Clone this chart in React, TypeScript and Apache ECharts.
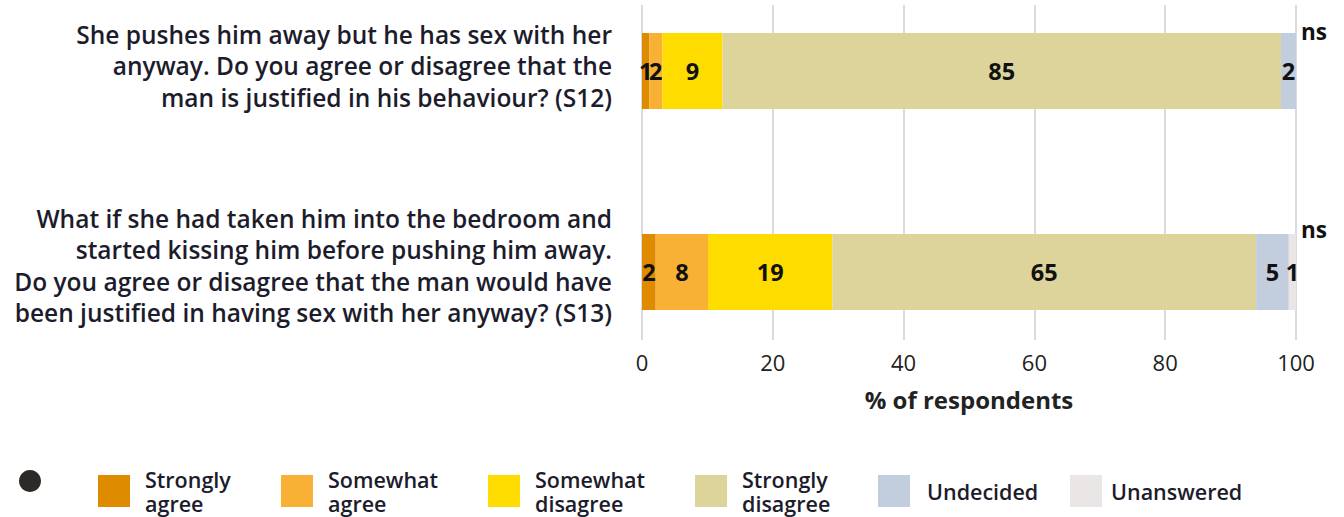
import React, { useEffect, useRef } from "react";
import * as echarts from "echarts";

const categories = [
  "She pushes him away but he has sex with her\nanyway. Do you agree or disagree that the\nman is justified in his behaviour? (S12)",
  "What if she had taken him into the bedroom and\nstarted kissing him before pushing him away.\nDo you agree or disagree that the man would have\nbeen justified in having sex with her anyway? (S13)",
];

const seriesNames = [
  "Strongly agree",
  "Somewhat agree",
  "Somewhat disagree",
  "Strongly disagree",
  "Undecided",
  "Unanswered",
];

const stronglyAgree = [1.1, 2.1];
const somewhatAgree = [2.0, 8.0];
const somewhatDisagree = [9.2, 19.0];
const stronglyDisagree = [85.4, 64.8];
const undecided = [2.3, 5.0];
const unanswered = [0, 1.1];

const seriesValues = [stronglyAgree, somewhatAgree, somewhatDisagree, stronglyDisagree, undecided, unanswered];
const seriesColors = ["#DE8B00", "#F8B134", "#FFDC00", "#DDD49C", "#C2CDDE", "#EAE6E6"];

const xTicks = { min: 0, max: 100, interval: 20 };
const significance = ["ns", "ns"];
const xAxisTitle = "% of respondents";

const legendLefts = [93, 276, 483, 690, 873, 1065];
const legendTextGaps = [10, 10, 10, 10, 12, 4];
const FONT = "'Open Sans', 'Noto Sans', sans-serif";
const TEXT = "#1c1c2c";

export default function App() {
  const ref = useRef<HTMLDivElement>(null);
  useEffect(() => {
    if (!ref.current) return;
    const chart = echarts.init(ref.current, undefined, { renderer: "svg" });
    const option: any = {
      animation: false,
      textStyle: { fontFamily: FONT },
      grid: [
        { left: 642, right: 48, top: 71, height: 201 },
        { left: 642, right: 48, top: 5, height: 335 },
        { left: 642, right: 48, top: 65.5, height: 200 },
      ],
      xAxis: [
        {
          gridIndex: 0,
          type: "value",
          min: xTicks.min,
          max: xTicks.max,
          interval: xTicks.interval,
          show: false,
        },
        {
          gridIndex: 1,
          type: "value",
          min: xTicks.min,
          max: xTicks.max,
          interval: xTicks.interval,
          axisLine: { show: false },
          axisTick: { show: false },
          splitLine: { show: true, lineStyle: { color: "#cfcfcf", width: 1.5 } },
          axisLabel: { margin: 11, fontSize: 22, color: "#222", fontFamily: FONT },
          name: xAxisTitle,
          nameLocation: "middle",
          nameGap: 47,
          nameTextStyle: { fontSize: 24, fontWeight: "bold", color: "#222", fontFamily: FONT },
        },
        {
          gridIndex: 2,
          type: "value",
          min: xTicks.min,
          max: xTicks.max,
          show: false,
        },
      ],
      yAxis: [
        {
          gridIndex: 0,
          type: "category",
          data: categories,
          inverse: true,
          boundaryGap: false,
          show: false,
        },
        { gridIndex: 1, type: "value", min: 0, max: 1, show: false },
        {
          gridIndex: 2,
          type: "category",
          data: categories,
          inverse: true,
          boundaryGap: false,
          axisLine: { show: false },
          axisTick: { show: false },
          splitLine: { show: false },
          axisLabel: {
            margin: 30,
            fontSize: 24.5,
            fontWeight: 600,
            lineHeight: 31.5,
            color: TEXT,
            align: "right",
            fontFamily: FONT,
          },
        },
      ],
      legend: seriesNames.map((n, i) => ({
        data: [n],
        left: legendLefts[i],
        top: n.indexOf(" ") >= 0 ? 460 : 470,
        orient: "horizontal",
        itemWidth: 32,
        itemHeight: 32,
        icon: "rect",
        selectedMode: false,
        formatter: (name: string) => name.replace(" ", "\n"),
        textStyle: {
          fontSize: 21.5,
          fontWeight: 600,
          lineHeight: 24,
          color: TEXT,
          fontFamily: FONT,
          padding: [0, 0, 4, legendTextGaps[i]],
        },
      })),
      series: seriesNames.map((n, i) => ({
        name: n,
        type: "bar",
        stack: "total",
        xAxisIndex: 0,
        yAxisIndex: 0,
        barWidth: 76,
        itemStyle: { color: seriesColors[i] },
        label: {
          show: true,
          position: "inside",
          fontSize: 23.5,
          fontWeight: "bold",
          color: "#111",
          fontFamily: FONT,
          formatter: (p: any) => (p.value > 0 ? String(Math.round(p.value)) : ""),
        },
        data: seriesValues[i],
      })),
      graphic: [
        { type: "circle", shape: { cx: 30, cy: 481, r: 11 }, style: { fill: "#2d2926" } },
        ...significance.map((s, i) => ({
          type: "text",
          x: 1301,
          y: i === 0 ? 31 : 229,
          style: {
            text: s,
            fontSize: 22.5,
            fontWeight: "bold",
            fill: "#111",
            fontFamily: FONT,
            verticalAlign: "middle",
          },
        })),
      ],
    };
    chart.setOption(option);
    return () => chart.dispose();
  }, []);
  return (
    <div
      ref={ref}
      style={{ position: "fixed", left: 0, top: 0, width: 1344, height: 517, background: "#fff" }}
    />
  );
}
